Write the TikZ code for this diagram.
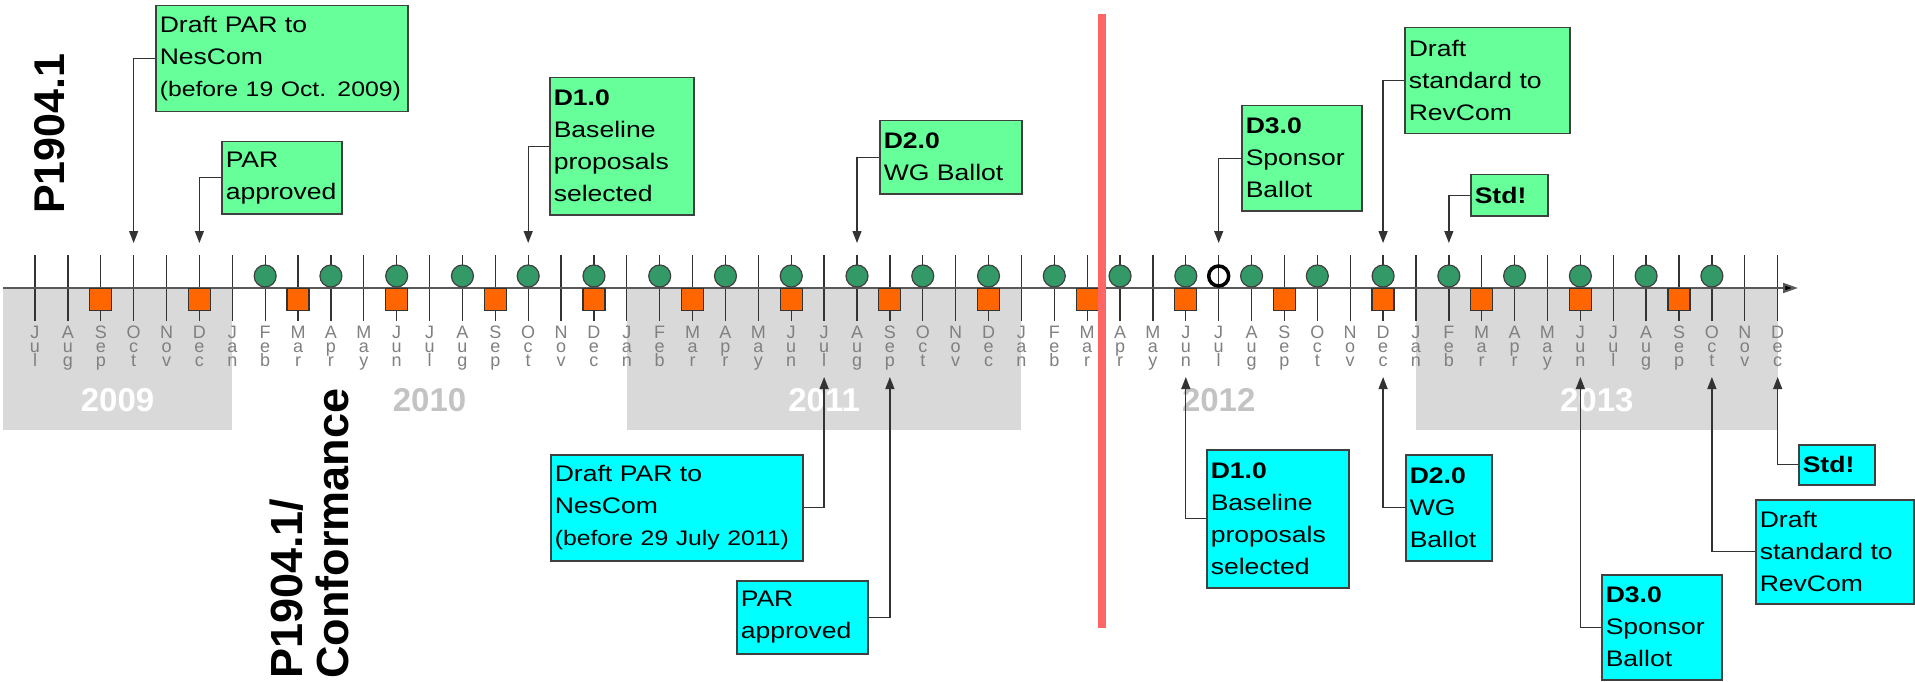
\documentclass[tikz,border=0pt]{standalone}
\usepackage{fontspec}
\setmainfont{Liberation Sans}
\newfontfamily\labelfont[FakeStretch=1.18]{Liberation Sans}
\usetikzlibrary{arrows.meta}

\definecolor{boxgreen}{RGB}{102,255,153}
\definecolor{boxcyan}{RGB}{0,255,255}
\definecolor{dotgreen}{RGB}{51,153,102}
\definecolor{sqorange}{RGB}{255,102,0}
\definecolor{bandgray}{RGB}{217,217,217}
\definecolor{monthgray}{RGB}{128,128,128}
\definecolor{yeargray}{RGB}{195,195,195}
\definecolor{nowred}{RGB}{255,102,102}
\definecolor{edgegray}{RGB}{64,64,64}

\tikzset{
  milestone/.style={draw=edgegray, line width=1.5pt, inner xsep=4pt, inner ysep=0pt,
    anchor=north west, align=left, font=\labelfont\fontsize{22.5}{32}\selectfont},
  topbox/.style={milestone, fill=boxgreen},
  botbox/.style={milestone, fill=boxcyan},
  conn/.style={draw=black!80, line width=1.3pt, -{Triangle[length=12pt,width=9pt]}},
  monthtick/.style={draw=black!80, line width=1.3pt},
  monthlab/.style={anchor=north, inner sep=0pt, align=center, text=monthgray,
    font=\fontsize{18}{14}\selectfont},
  yearlab/.style={inner sep=0pt, font=\bfseries\fontsize{33}{36}\selectfont},
  greendot/.style={circle, draw=black!75, fill=dotgreen, line width=1.2pt,
    minimum size=22pt, inner sep=0pt},
  hollowdot/.style={circle, draw=black, line width=3.5pt, minimum size=20pt, inner sep=0pt},
  orangesq/.style={rectangle, draw=black!80, fill=sqorange, line width=1.2pt,
    minimum size=22pt, inner sep=0pt},
  tracklab/.style={rotate=90, inner sep=0pt, align=left,
    font=\bfseries\fontsize{45}{46}\selectfont}
}

\newcommand{\smallline}{\fontsize{21}{32}\selectfont}

\begin{document}
\begin{tikzpicture}[x=1pt,y=-1pt]
\useasboundingbox (0,0) rectangle (1915,682);

% month positions, Jul 2009 (0) to Dec 2013 (53)
\foreach \m in {0,...,53} \coordinate (t\m) at ({35+32.88*\m},288);
\coordinate (toprow) at (0,243);
\coordinate (botrow) at (0,377);

% shaded years
\fill[bandgray] (3,288) rectangle (232.28,430);
\fill[bandgray] (626.84,288) rectangle (1021.4,430);
\fill[bandgray] (1415.96,288) rectangle (1777.64,430);

% year captions
\node[yearlab, text=white]     (y2009) at (117.6,400) {2009};
\node[yearlab, text=yeargray]  (y2010) at (429.6,400) {2010};
\node[yearlab, text=white]     (y2011) at (824.1,400) {2011};
\node[yearlab, text=yeargray]  (y2012) at (1218.7,400) {2012};
\node[yearlab, text=white]     (y2013) at (1596.8,400) {2013};

% month ticks
\foreach \m in {0,...,53} \draw[monthtick] ({35+32.88*\m},255) -- ({35+32.88*\m},321);

% time axis
\coordinate (axisstart) at (3,288);
\coordinate (axisend) at (1798,288);
\draw[draw=black!65, line width=2pt, -{Triangle[length=15pt,width=10pt,fill=black]}] (axisstart) -- (axisend);

% month letters
\foreach \yr in {0,...,4}{
  \foreach \a/\b/\c [count=\k from 0] in {J/a/n,F/e/b,M/a/r,A/p/r,M/a/y,J/u/n,J/u/l,A/u/g,S/e/p,O/c/t,N/o/v,D/e/c}{
    \pgfmathtruncatemacro{\m}{12*\yr+\k-6}
    \ifnum\m>-1
      \node[monthlab] (lab\m) at ({35+32.88*\m},326) {\a\\\b\\\c};
    \fi
  }
}

% meetings and milestones on the axis
\foreach \m in {7,9,...,51} \node[greendot] (d\m) at ({35+32.88*\m},276) {};
\node[hollowdot] (now) at ({35+32.88*36},276) {};
\foreach \m in {2,5,...,50} \node[orangesq] (s\m) at ({35+32.88*\m},299.2) {};

% P1904.1 milestones
\node[topbox, text width=244pt, minimum height=106pt] (g1) at (155,5)
  {Draft PAR to\\NesCom\\{\smallline (before 19 Oct. 2009)}};
\node[topbox, text width=112pt, minimum height=72pt] (g2) at (221,141)
  {PAR\\approved};
\node[topbox, text width=136pt, minimum height=137pt] (g3) at (549,77)
  {\textbf{D1.0}\\Baseline\\proposals\\selected};
\node[topbox, text width=134pt, minimum height=73pt] (g4) at (879,120)
  {\textbf{D2.0}\\WG Ballot};
\node[topbox, text width=112pt, minimum height=105pt] (g5) at (1241,105)
  {\textbf{D3.0}\\Sponsor\\Ballot};
\node[topbox, text width=157pt, minimum height=106pt] (g6) at (1404,27)
  {Draft\\standard to\\RevCom};
\node[topbox, text width=69pt, minimum height=41pt] (g7) at (1470,174)
  {\textbf{Std!}};

% P1904.1/Conformance milestones
\node[botbox, text width=244pt, minimum height=106pt] (c1) at (550,454)
  {Draft PAR to\\NesCom\\{\smallline (before 29 July 2011)}};
\node[botbox, text width=123pt, minimum height=73pt] (c2) at (736,580)
  {PAR\\approved};
\node[botbox, text width=134pt, minimum height=138pt] (c3) at (1206,449)
  {\textbf{D1.0}\\Baseline\\proposals\\selected};
\node[botbox, text width=78pt, minimum height=106pt] (c4) at (1405,454)
  {\textbf{D2.0}\\WG\\Ballot};
\node[botbox, text width=112pt, minimum height=105pt] (c5) at (1601,574)
  {\textbf{D3.0}\\Sponsor\\Ballot};
\node[botbox, text width=150pt, minimum height=104pt] (c6) at (1755,499)
  {Draft\\standard to\\RevCom};
\node[botbox, text width=68pt, minimum height=40pt] (c7) at (1798,444)
  {\textbf{Std!}};

% leaders to the timeline
\draw[conn] (g1.west) -| (t3 |- toprow);
\draw[conn] (g2.west) -| (t5 |- toprow);
\draw[conn] (g3.west) -| (t15 |- toprow);
\draw[conn] (g4.west) -| (t25 |- toprow);
\draw[conn] (g5.west) -| (t36 |- toprow);
\draw[conn] (g6.west) -| (t41 |- toprow);
\draw[conn] (g7.west) -| (t43 |- toprow);

\draw[conn] (c1.east) -| (t24 |- botrow);
\draw[conn] (c2.east) -| (t26 |- botrow);
\draw[conn] (c3.west) -| (t35 |- botrow);
\draw[conn] (c4.west) -| (t41 |- botrow);
\draw[conn] (c5.west) -| (t47 |- botrow);
\draw[conn] (c6.west) -| (t51 |- botrow);
\draw[conn] (c7.west) -| (t53 |- botrow);

% track titles
\node[tracklab, font=\bfseries\fontsize{43}{46}\selectfont, anchor=base west] (track1) at (64,214) {P1904.1};
\node[tracklab, anchor=north west] (track2) at (270,679) {P1904.1/\\Conformance};

% today marker
\coordinate (nowtop) at (1102,14);
\coordinate (nowbot) at (1102,628);
\draw[draw=nowred, line width=8pt] (nowtop) -- (nowbot);
\end{tikzpicture}
\end{document}
